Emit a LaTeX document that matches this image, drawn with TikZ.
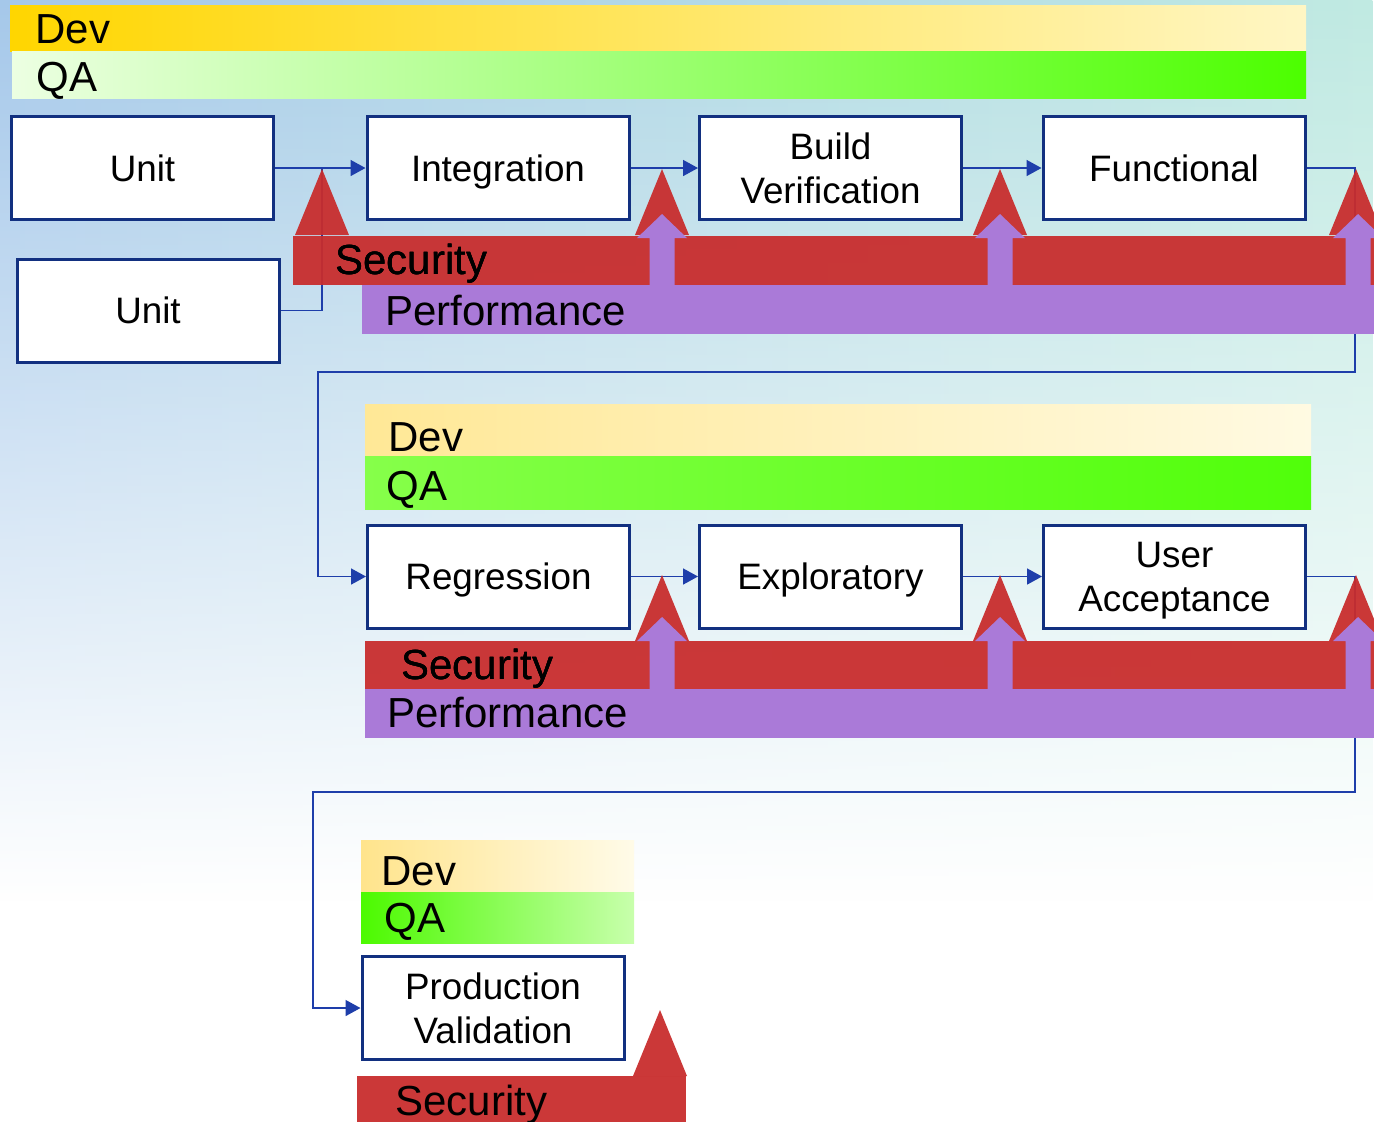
\documentclass[tikz,border=0pt]{standalone}
\usepackage{fontspec}
\setmainfont{Liberation Sans}
\usepackage{xcolor}
\usetikzlibrary{arrows.meta, fadings}
\definecolor{boxblue}{RGB}{18, 48, 128}
\definecolor{linkblue}{RGB}{30, 62, 170}
\definecolor{secred}{RGB}{200, 44, 44}
\definecolor{perfpurple}{RGB}{170, 122, 216}
\definecolor{bgblue}{RGB}{165, 200, 234}
\definecolor{bgteal}{RGB}{192, 234, 226}
\newcommand{\boxfont}{\fontsize{18.4}{22}\selectfont}
\newcommand{\barfont}{\fontsize{21}{25}\selectfont}
\newcommand{\secpeak}[2]{
\fill[secfill] ({#1-27},{#2+66}) -- (#1,#2) -- ({#1+27},{#2+66}) -- cycle;
}
\newcommand{\perfarrow}[3]{
\fill[perffill] ({#1-12.5},#3) -- ({#1-12.5},{#2+24}) -- ({#1-25},{#2+24}) -- (#1,#2)
  -- ({#1+25},{#2+24}) -- ({#1+12.5},{#2+24}) -- ({#1+12.5},#3) -- cycle;
}

\begin{document}
\begin{tikzpicture}[x=0.5pt, y=-0.5pt,
    stage/.style={draw=boxblue, line width=1.5pt, fill=white, minimum width=131pt,
        minimum height=51.5pt, align=center, font=\boxfont, text depth=0pt},
    flow/.style={draw=linkblue, line width=0.8pt, -{Triangle[length=7.5pt,width=8pt]}},
    link/.style={draw=linkblue, line width=0.8pt},
    bartext/.style={anchor=west, inner sep=0pt, font=\barfont, text height=15.1pt, text depth=0pt},
    secfill/.style={fill=secred, fill opacity=0.94},
    perffill/.style={fill=perfpurple}]
    \useasboundingbox (0,0) rectangle (1374,1121);
    \clip (0,0) rectangle (1374,1121);
    % background
    \fill[white] (0,0) rectangle (1374,1121);
    \shade[left color=bgblue, right color=bgteal, path fading=south] (0,0) rectangle (1374,900);

    % dev / qa bars
    \shade[left color={rgb,255:red,255;green,214;blue,0}, right color={rgb,255:red,255;green,246;blue,196}]
        (10,5) rectangle (1306,51);
    \shade[left color={rgb,255:red,236;green,255;blue,226}, right color={rgb,255:red,76;green,255;blue,0}]
        (12,51) rectangle (1306,98);
    \node[bartext] (devA) at (35,28) {Dev};
    \node[bartext] (qaA) at (36,76) {QA};

    \shade[left color={rgb,255:red,255;green,232;blue,150}, right color={rgb,255:red,255;green,250;blue,226}]
        (365,404) rectangle (1311,456);
    \shade[left color={rgb,255:red,134;green,255;blue,74}, right color={rgb,255:red,80;green,255;blue,10}]
        (365,456) rectangle (1311,509);
    \node[bartext] (devB) at (388,436) {Dev};
    \node[bartext] (qaB) at (386,485) {QA};

    \shade[left color={rgb,255:red,255;green,228;blue,140}, right color={rgb,255:red,255;green,251;blue,232}]
        (361,840) rectangle (634,892);
    \shade[left color={rgb,255:red,76;green,250;blue,0}, right color={rgb,255:red,200;green,255;blue,172}]
        (361,892) rectangle (634,943);
    \node[bartext] (devC) at (381,870) {Dev};
    \node[bartext] (qaC) at (384,917) {QA};

    % stages
    \node[stage] (unitA) at (142.5,168) {Unit};
    \node[stage] (unitB) at (148,310.5) {Unit};
    \node[stage] (integ) at (498,168) {Integration};
    \node[stage] (buildver) at (830.5,168) {Build\\Verification};
    \node[stage] (func) at (1174,168) {Functional};
    \node[stage] (regr) at (498.5,576.5) {Regression};
    \node[stage] (explor) at (830.5,576.5) {Exploratory};
    \node[stage] (useracc) at (1174.5,576.5) {User\\Acceptance};
    \node[stage] (prodval) at (493,1008) {Production\\Validation};

    % connectors
    \coordinate (joinA) at (322,168);
    \coordinate (turnA) at (1355,372);
    \coordinate (turnB) at (318,372);
    \coordinate (turnC) at (1355,792);
    \coordinate (turnD) at (313,792);
    \draw[flow] (unitA.east) -- (integ.west);
    \draw[link] (unitB.east) -| (joinA);
    \draw[flow] (integ.east) -- (buildver.west);
    \draw[flow] (buildver.east) -- (func.west);
    \draw[flow] (func.east) -| (turnA) -- (turnB) |- (regr.west);
    \draw[flow] (regr.east) -- (explor.west);
    \draw[flow] (explor.east) -- (useracc.west);
    \draw[flow] (useracc.east) -| (turnC) -- (turnD) |- (prodval.west);

    % security and performance, first row
    \fill[secfill] (293,236) rectangle (1390,285);
    \foreach \px in {322,662,1000,1356}
        \secpeak{\px}{169}
    \fill[perffill] (362,285) rectangle (1390,334);
    \foreach \px in {662,1000,1358}
        \perfarrow{\px}{214}{286}
    \node[bartext] (secA) at (335,259) {Security};
    \node[bartext] (perfA) at (385,310) {Performance};

    % second row
    \fill[secfill] (365,641) rectangle (1390,689);
    \foreach \px in {662,1000,1356}
        \secpeak{\px}{575}
    \fill[perffill] (365,689) rectangle (1390,738);
    \foreach \px in {662,1000,1358}
        \perfarrow{\px}{617}{690}
    \node[bartext] (secB) at (401,664) {Security};
    \node[bartext] (perfB) at (387,712) {Performance};

    % third row
    \fill[secfill] (357,1076) rectangle (686,1130);
    \secpeak{660}{1010}
    \node[bartext] (secC) at (395,1100) {Security};
\end{tikzpicture}
\end{document}
